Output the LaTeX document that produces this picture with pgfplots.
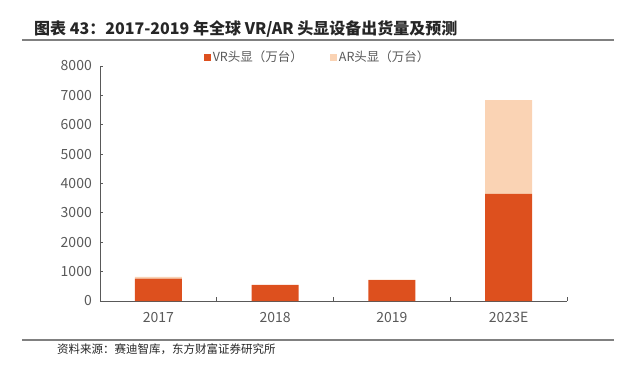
\documentclass[border=0pt]{standalone}
\usepackage{fontspec}
\setmainfont{Noto Sans CJK SC}
\usepackage{pgfplots}
\pgfplotsset{compat=1.18}
\definecolor{vrc}{RGB}{221,80,30}
\definecolor{arc}{RGB}{250,211,180}
\definecolor{txt}{RGB}{89,89,89}
\definecolor{rule}{RGB}{128,128,128}
\begin{document}
\begin{tikzpicture}[x=1pt,y=1pt]
\path[use as bounding box] (0,0) rectangle (618,368);
\node[anchor=base west, inner sep=0pt, font=\bfseries\fontsize{16}{16}\selectfont, text=black!85] at (34,334) {图表 43：2017-2019 年全球 VR/AR 头显设备出货量及预测};
\draw[rule, line width=1.5pt] (22,328) -- (614,328);
\draw[rule, line width=1.5pt] (22,28) -- (614,28);
\node[anchor=base west, inner sep=0pt, font=\fontsize{11.5}{11.5}\selectfont, text=black!85] at (57,15) {资料来源：赛迪智库，东方财富证券研究所};
\begin{axis}[
  at={(100pt,67pt)}, anchor=south west,
  scale only axis, width=467pt, height=235pt,
  ybar stacked, bar width=47pt,
  xmin=-0.5, xmax=3.5, ymin=0, ymax=8000,
  xtick={0,1,2,3}, xticklabels={2017,2018,2019,2023E},
  minor xtick={0.5,1.5,2.5,3.5},
  major x tick style={draw=none},
  minor tick length=4pt, major tick length=3pt,
  ytick={0,1000,...,8000},
  axis x line*=bottom, axis y line*=left,
  tick align=inside,
  axis line style={draw=txt, line width=0.9pt},
  tick style={draw=txt, line width=0.8pt},
  /pgf/number format/assume math mode=true,
  /pgf/number format/1000 sep={},
  ticklabel style={font=\fontsize{14}{14}\selectfont, text=txt},
  yticklabel style={inner sep=0pt, anchor=east, xshift=-8pt},
  xticklabel style={inner sep=0pt, anchor=north, yshift=-11pt},
  legend style={at={(axis description cs:0.466,1.038)}, anchor=center, legend columns=2, draw=none, fill=none, font=\fontsize{12.5}{12.5}\selectfont, text=txt, /tikz/every even column/.append style={column sep=25pt}},
  legend image code/.code={\fill (0pt,-3.5pt) rectangle (7pt,3.5pt);},
]
\addplot[fill=vrc, draw=none] coordinates {(0,760) (1,545) (2,715) (3,3650)};
\addplot[fill=arc, draw=none] coordinates {(0,60) (1,0) (2,15) (3,3190)};
\legend{VR头显（万台）, AR头显（万台）}
\end{axis}
\end{tikzpicture}
\end{document}
